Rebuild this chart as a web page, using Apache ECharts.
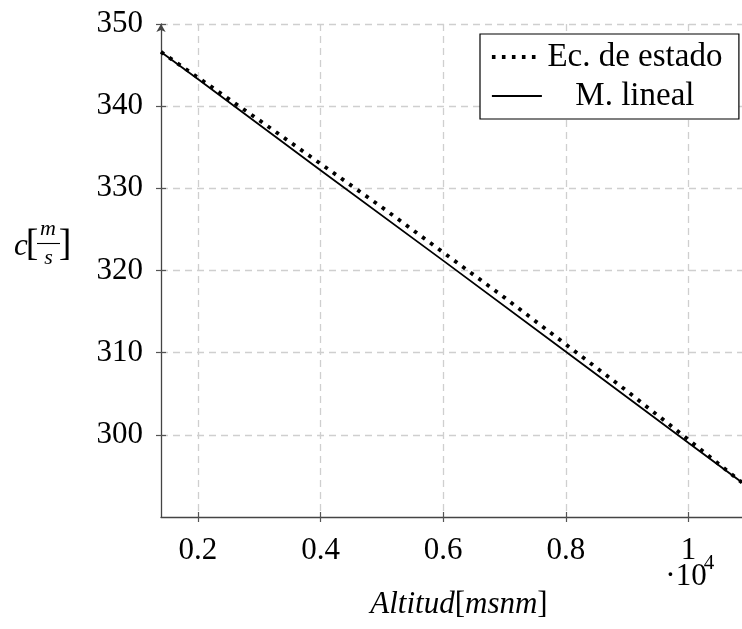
<!DOCTYPE html>
<html>
<head>
<meta charset="utf-8">
<script src="https://cdn.jsdelivr.net/npm/echarts@6/dist/echarts.min.js"></script>
<style>
  html, body { margin: 0; padding: 0; background: #fff; }
  #chart { width: 742px; height: 629px; }
</style>
</head>
<body>
<div id="chart"></div>
<script>
// Altitude in units of 10^4 m above sea level, speed of sound in m/s
const altitudEstado = [0.14, 0.2, 0.3, 0.4, 0.5, 0.6, 0.7, 0.8, 0.9, 1.0, 1.087];
const cEstado       = [346.6, 343.5, 338.3, 333.0, 327.7, 322.2, 316.7, 311.0, 305.3, 299.4, 294.2];

const altitudLineal = [0.14, 0.2, 0.4, 0.6, 0.8, 1.0, 1.087];
const cLineal       = [346.6, 343.3, 332.2, 321.2, 310.1, 299.0, 294.2];

const xTicks = [0.2, 0.4, 0.6, 0.8, 1];
const yTicks = [300, 310, 320, 330, 340, 350];

const serif = "'Liberation Serif', 'DejaVu Serif', serif";
const zip = (xs, ys) => xs.map((x, i) => [x, ys[i]]);

const dottedStyle = { color: '#000', width: 3.8, type: [3.6, 6.4], cap: 'butt' };
const solidStyle = { color: '#000', width: 1.8 };

const chart = echarts.init(document.getElementById('chart'), null, { renderer: 'canvas' });

chart.setOption({
  animation: false,
  backgroundColor: '#fff',
  grid: { left: 161, top: 24, right: 0, bottom: 112, containLabel: false },
  xAxis: [
    {
      type: 'value', min: 0.14, max: 1.087,
      axisLine: { show: true, lineStyle: { color: '#444', width: 1.3 } },
      axisTick: { show: true, customValues: xTicks, length: 5, lineStyle: { color: '#555', width: 1.2 } },
      axisLabel: {
        customValues: xTicks, margin: 18, color: '#000',
        fontFamily: serif, fontSize: 31, formatter: v => String(v)
      },
      splitLine: { show: true, lineStyle: { color: '#cfcfcf', width: 1.3, type: [7, 5] } }
    },
    {
      // inward half of the x tick marks
      type: 'value', min: 0.14, max: 1.087, position: 'bottom',
      axisLine: { show: false },
      axisTick: { show: true, inside: true, customValues: xTicks, length: 5, lineStyle: { color: '#555', width: 1.2 } },
      axisLabel: { show: false },
      splitLine: { show: false }
    }
  ],
  yAxis: [
    {
      type: 'value', min: 290, max: 350,
      axisLine: {
        show: true, symbol: ['none', 'arrow'], symbolSize: [7, 8],
        lineStyle: { color: '#444', width: 1.3 }
      },
      axisTick: { show: true, customValues: yTicks, length: 5, lineStyle: { color: '#555', width: 1.2 } },
      axisLabel: {
        customValues: yTicks, margin: 18, color: '#000',
        fontFamily: serif, fontSize: 31
      },
      splitLine: { show: true, lineStyle: { color: '#cfcfcf', width: 1.3, type: [7, 5] } }
    },
    {
      // inward half of the y tick marks
      type: 'value', min: 290, max: 350, position: 'left',
      axisLine: { show: false },
      axisTick: { show: true, inside: true, customValues: yTicks, length: 5, lineStyle: { color: '#555', width: 1.2 } },
      axisLabel: { show: false },
      splitLine: { show: false }
    }
  ],
  legend: {
    orient: 'vertical',
    left: 480, top: 34,
    padding: [6, 16, 6, 10],
    borderColor: '#000', borderWidth: 1.2,
    backgroundColor: '#fff',
    itemWidth: 50, itemHeight: 34, itemGap: 5,
    itemStyle: { opacity: 0 },
    textStyle: {
      fontFamily: serif, fontSize: 33, color: '#000', lineHeight: 34,
      rich: { t: { width: 176, align: 'center', fontFamily: serif, fontSize: 33, lineHeight: 34, color: '#000' } }
    },
    formatter: name => '{t|' + name + '}',
    data: [
      { name: 'Ec. de estado', lineStyle: dottedStyle },
      { name: 'M. lineal', lineStyle: solidStyle }
    ]
  },
  series: [
    {
      name: 'Ec. de estado', type: 'line', symbol: 'none', showSymbol: false,
      data: zip(altitudEstado, cEstado), z: 3,
      lineStyle: dottedStyle,
      itemStyle: { color: '#000' }
    },
    {
      name: 'M. lineal', type: 'line', symbol: 'none', showSymbol: false,
      data: zip(altitudLineal, cLineal), z: 2,
      lineStyle: solidStyle,
      itemStyle: { color: '#000' }
    }
  ],
  graphic: [
    // y axis name: c[m/s]
    { type: 'text', style: { text: 'c', x: 21, y: 247, align: 'center', verticalAlign: 'middle', font: 'italic 31px ' + serif, fill: '#000' } },
    { type: 'text', style: { text: '[', x: 32, y: 245, align: 'center', verticalAlign: 'middle', font: '38px ' + serif, fill: '#000' } },
    { type: 'text', style: { text: 'm', x: 48, y: 229, align: 'center', verticalAlign: 'middle', font: 'italic 22px ' + serif, fill: '#000' } },
    { type: 'line', shape: { x1: 37, y1: 243.5, x2: 60, y2: 243.5 }, style: { stroke: '#000', lineWidth: 1.1 } },
    { type: 'text', style: { text: 's', x: 48.5, y: 258, align: 'center', verticalAlign: 'middle', font: 'italic 22px ' + serif, fill: '#000' } },
    { type: 'text', style: { text: ']', x: 65, y: 245, align: 'center', verticalAlign: 'middle', font: '38px ' + serif, fill: '#000' } },
    // x axis name and scale factor
    {
      type: 'text',
      style: {
        text: '{i|Altitud}{n|[}{i|msnm}{n|]}', x: 459, y: 605, align: 'center', verticalAlign: 'middle',
        rich: {
          i: { fontFamily: serif, fontStyle: 'italic', fontSize: 31, fill: '#000', color: '#000' },
          n: { fontFamily: serif, fontSize: 31, fill: '#000', color: '#000' }
        }
      }
    },
    { type: 'text', style: { text: '·10', x: 686, y: 577, align: 'center', verticalAlign: 'middle', font: '31px ' + serif, fill: '#000' } },
    { type: 'text', style: { text: '4', x: 709, y: 563, align: 'center', verticalAlign: 'middle', font: '21px ' + serif, fill: '#000' } }
  ]
});
</script>
</body>
</html>
